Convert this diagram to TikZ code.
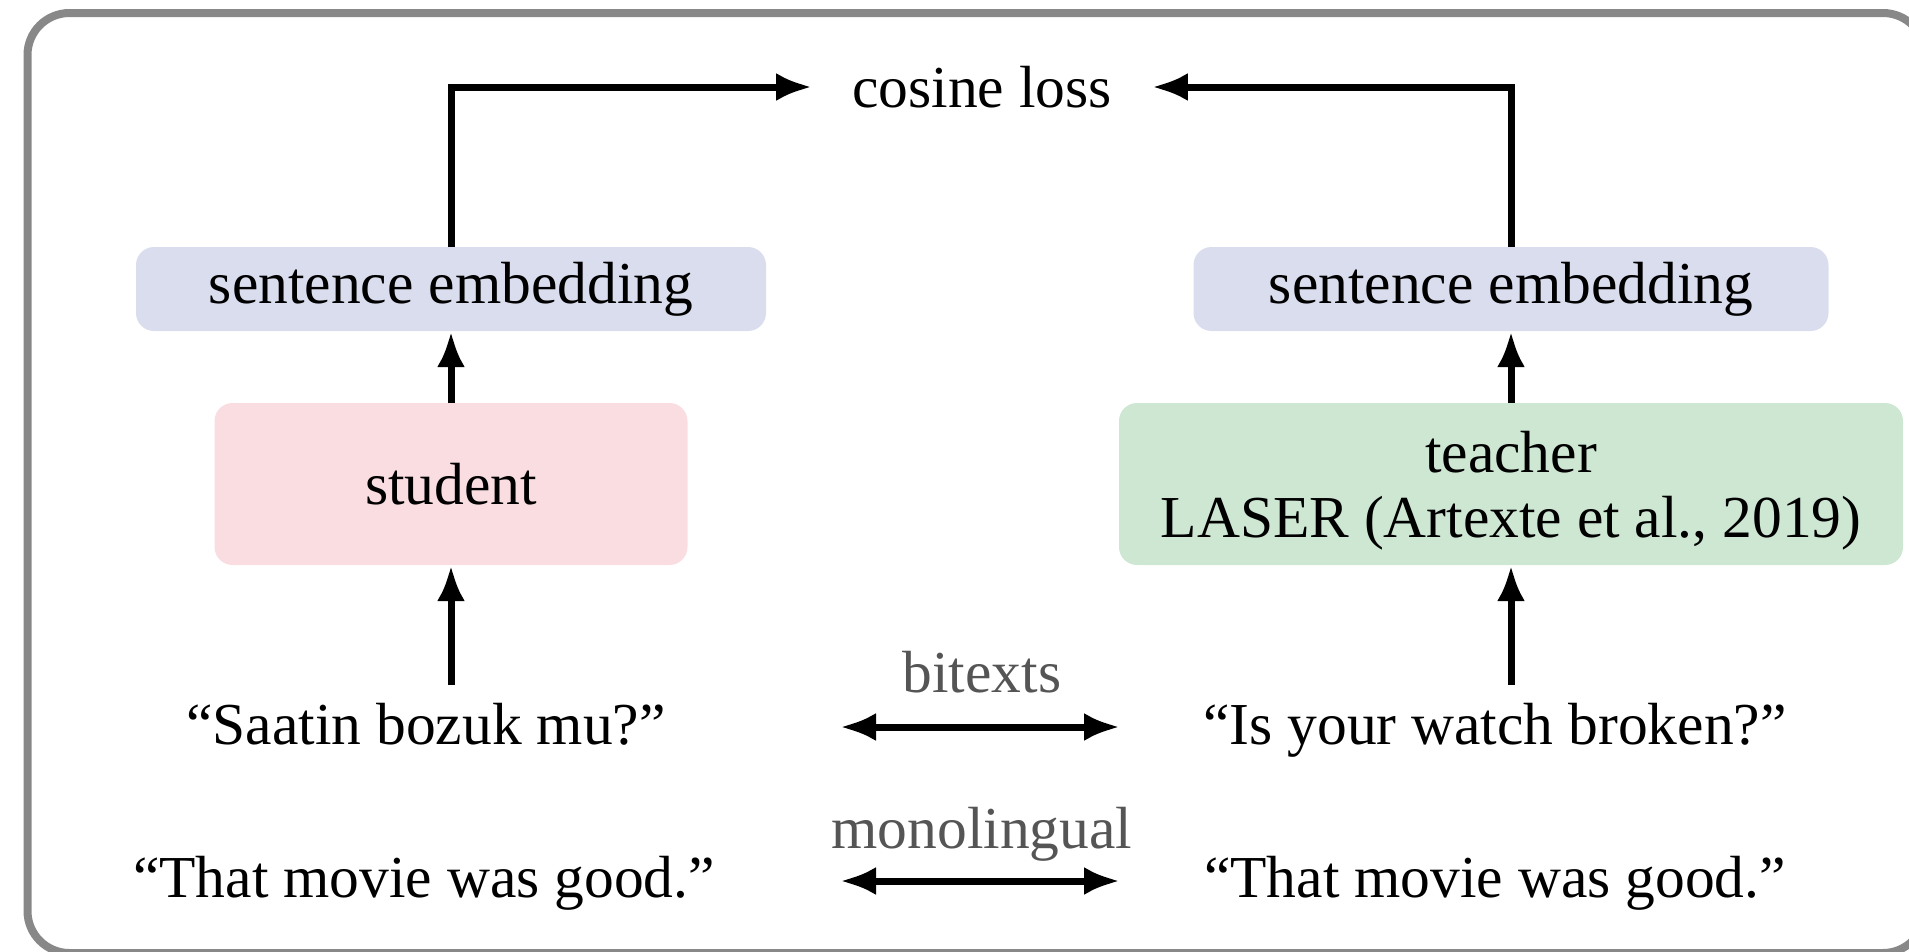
\documentclass[tikz,border=0pt]{standalone}
\usepackage{fontspec}
\setmainfont{Liberation Serif}
\usetikzlibrary{arrows.meta,positioning,calc}

\definecolor{framegray}{HTML}{888888}
\definecolor{embfill}{HTML}{DADDEE}
\definecolor{studfill}{HTML}{FADDE1}
\definecolor{teachfill}{HTML}{CDE7D3}
\definecolor{labelgray}{HTML}{555555}

\tikzset{
  every node/.style={font=\fontsize{59.5}{65}\selectfont},
  box/.style={rounded corners=18pt, draw=none, inner sep=0pt, align=center},
  conn/.style={line width=7pt, -{Latex[length=36pt,width=28pt]}},
  biconn/.style={line width=7pt, {Latex[length=36pt,width=28pt]}-{Latex[length=36pt,width=28pt]}},
  sentence/.style={text height=42pt, text depth=13pt, inner xsep=0pt, inner ysep=17pt},
  linklabel/.style={text=labelgray, anchor=base, inner sep=0pt},
}

\begin{document}
\begin{tikzpicture}[x=1pt, y=-1pt]
  \useasboundingbox (0,0) rectangle (1909,951);

  % outer frame
  \draw[line width=8pt, framegray, rounded corners=42pt] (27.5,13) rectangle (1925,953);

  % embedding boxes
  \node[box, fill=embfill, minimum width=630pt, minimum height=84pt] (emL) at (451,289) {sentence embedding};
  \node[box, fill=embfill, minimum width=635pt, minimum height=84pt] (emR) at (1511,289) {sentence embedding};

  % encoders
  \node[box, fill=studfill, minimum width=473pt, minimum height=162pt] (student) at (451,484) {student};
  \node[box, fill=teachfill, minimum width=784pt, minimum height=162pt] (teacher) at (1511,484)
    {\rule{0pt}{54pt}teacher\\LASER (Artexte et al., 2019)};

  % loss
  \node[inner xsep=40pt, inner ysep=0pt] (loss) at (982,87) {cosine loss};

  % sentences
  \node[sentence] (srcL) at (426,744) [anchor=base] {“Saatin bozuk mu?”};
  \node[sentence] (srcR) at (1495,744) [anchor=base] {“Is your watch broken?”};
  \node[sentence] (monoL) at (424,897) [anchor=base] {“That movie was good.”};
  \node[sentence] (monoR) at (1495,897) [anchor=base] {“That movie was good.”};

  % ends of the pairing arrows
  \coordinate (biL) at (840,727);
  \coordinate (biR) at (1120,727);
  \coordinate (moL) at (840,881);
  \coordinate (moR) at (1120,881);

  \node[linklabel] (lblBi) at (982,692) {bitexts};
  \node[linklabel] (lblMono) at (982,848) {monolingual};

  % connectors
  \draw[conn] (emL.north) |- (loss.west);
  \draw[conn] (emR.north) |- (loss.east);
  \draw[conn] (student.north) -- (emL.south);
  \draw[conn] (teacher.north) -- (emR.south);
  \draw[conn] (student.south |- srcL.north) -- (student.south);
  \draw[conn] (teacher.south |- srcR.north) -- (teacher.south);
  \draw[biconn] (biL) -- (biR);
  \draw[biconn] (moL) -- (moR);
\end{tikzpicture}
\end{document}
